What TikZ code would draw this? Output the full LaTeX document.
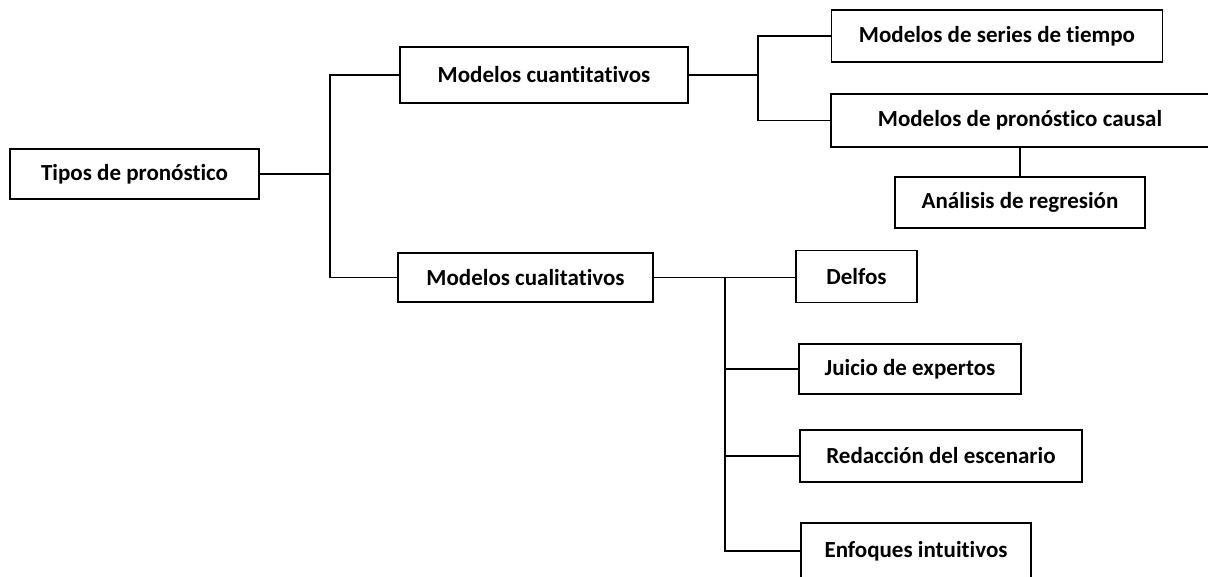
\documentclass[tikz,border=0pt]{standalone}
\usepackage{fontspec}
\setmainfont[Ligatures=NoCommon]{Carlito}
\tikzset{
  caja/.style={draw, line width=1.3pt, font=\fontsize{23}{27}\selectfont\bfseries,
    inner sep=0pt, align=center},
  rama/.style={line width=1.3pt}
}
\begin{document}
\begin{tikzpicture}[x=1pt,y=-1pt]
  \useasboundingbox (0,0) rectangle (1208,576);
  \clip (0,0) rectangle (1208,576);
  % cajas
  \node[caja, minimum width=249pt, minimum height=50pt] (tipos) at (134.5,174) {Tipos de pronóstico};
  \node[caja, minimum width=288pt, minimum height=56pt] (cuanti) at (544,75) {Modelos cuantitativos};
  \node[caja, minimum width=331pt, minimum height=52pt] (series) at (997,36) {Modelos de series de tiempo};
  \node[caja, minimum width=378pt, minimum height=53pt] (causal) at (1020,120.5) {Modelos de pronóstico causal};
  \node[caja, minimum width=250pt, minimum height=51pt] (regresion) at (1020,202.5) {Análisis de regresión};
  \node[caja, minimum width=255pt, minimum height=49pt] (cuali) at (525.5,277.5) {Modelos cualitativos};
  \node[caja, minimum width=121pt, minimum height=52pt] (delfos) at (856.5,276.5) {Delfos};
  \node[caja, minimum width=222pt, minimum height=50pt] (juicio) at (910,369) {Juicio de expertos};
  \node[caja, minimum width=282pt, minimum height=52pt] (redaccion) at (941,456) {Redacción del escenario};
  \node[caja, minimum width=230pt, minimum height=56pt] (enfoques) at (916,551) {Enfoques intuitivos};
  % uniones
  \coordinate (j1) at (330,174);
  \coordinate (j2) at (758,75);
  \coordinate (j3) at (725,277.5);
  \draw[rama] (tipos.east) -- (j1);
  \draw[rama] (cuanti.west) -| (j1) |- (cuali.west);
  \draw[rama] (cuanti.east) -- (j2);
  \draw[rama] (series.west) -| (j2) |- (causal.west);
  \draw[rama] (causal) -- (regresion);
  \draw[rama] (cuali.east) -- (cuali.east -| delfos.west);
  \draw[rama] (j3) |- (enfoques.west);
  \draw[rama] (j3 |- juicio.west) -- (juicio.west);
  \draw[rama] (j3 |- redaccion.west) -- (redaccion.west);
\end{tikzpicture}
\end{document}
